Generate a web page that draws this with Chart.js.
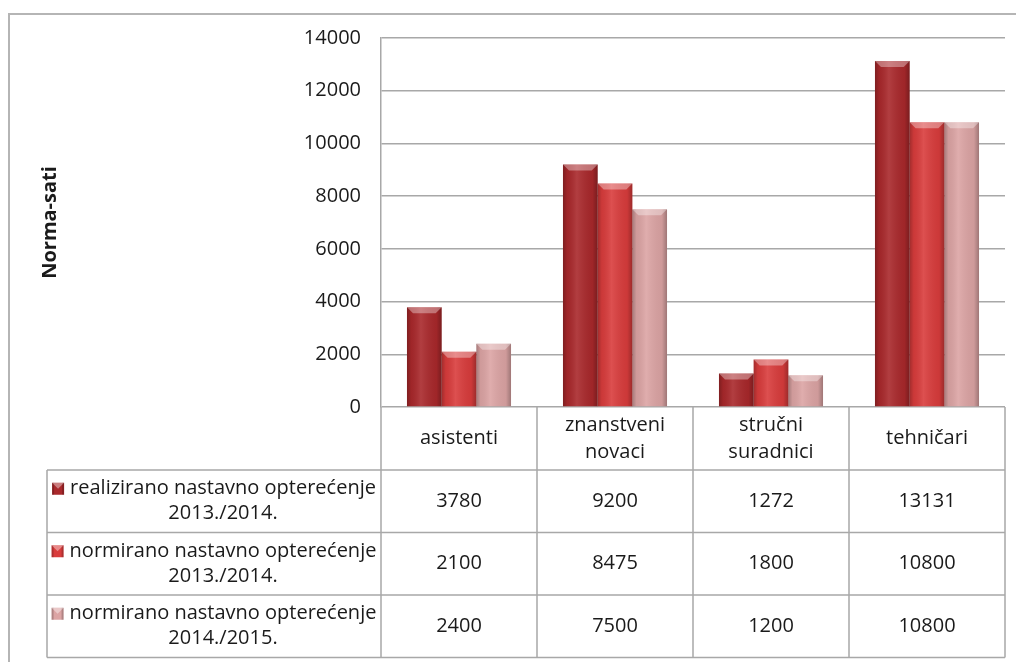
<!DOCTYPE html>
<html>
<head>
<meta charset="utf-8">
<script src="https://cdn.jsdelivr.net/npm/chart.js@4"></script>
<style>
  html, body { margin: 0; padding: 0; background: #fff; overflow: hidden; }
  #frame { position: absolute; left: 8px; top: 13px; width: 1100px; height: 700px; border: 2px solid #b5b5b5; }
  #wrap { position: absolute; left: 0; top: 0; width: 1016px; height: 662px; }
</style>
</head>
<body>
<div id="frame"></div>
<div id="wrap"><canvas id="chart" width="1016" height="662"></canvas></div>
<script>
// categories (multi-line where the header wraps)
const categories = ['asistenti', ['znanstveni', 'novaci'], ['stručni', 'suradnici'], 'tehničari'];
const seriesNames = [
  ['realizirano nastavno opterećenje', '2013./2014.'],
  ['normirano nastavno opterećenje', '2013./2014.'],
  ['normirano nastavno opterećenje', '2014./2015.']
];
const realizirano1314 = [3780, 9200, 1272, 13131];
const normirano1314 = [2100, 8475, 1800, 10800];
const normirano1415 = [2400, 7500, 1200, 10800];
const yMin = 0, yMax = 14000, yStep = 2000;
const yTitle = 'Norma-sati';

const colors = ['#a9282b', '#d93c3c', '#dca4a4'];
const FONT = "'Open Sans', sans-serif";
const TXT = '#1a1a1a';
const lineCol = '#a8a8a8';

const bevel = {
  id: 'bevel',
  afterDatasetsDraw(chart) {
    const ctx = chart.ctx;
    chart.data.datasets.forEach((ds, di) => {
      chart.getDatasetMeta(di).data.forEach(bar => {
        const {x, y, base, width} = bar.getProps(['x', 'y', 'base', 'width'], true);
        const l = x - width / 2, r = x + width / 2, h = base - y;
        const g = ctx.createLinearGradient(l, 0, r, 0);
        g.addColorStop(0, 'rgba(0,0,0,0.25)');
        g.addColorStop(0.12, 'rgba(0,0,0,0.06)');
        g.addColorStop(0.4, 'rgba(255,255,255,0.10)');
        g.addColorStop(0.85, 'rgba(0,0,0,0.06)');
        g.addColorStop(1, 'rgba(0,0,0,0.28)');
        ctx.save();
        ctx.fillStyle = g;
        ctx.fillRect(l, y, width, h);
        const b = Math.min(6, h / 2);
        ctx.beginPath();
        ctx.moveTo(l, y); ctx.lineTo(r, y); ctx.lineTo(r - b, y + b); ctx.lineTo(l + b, y + b);
        ctx.closePath();
        ctx.fillStyle = 'rgba(255,255,255,0.35)';
        ctx.fill();
        ctx.restore();
      });
    });
  }
};

// data table under the plot, laid out from the x scale
const dataTable = {
  id: 'dataTable',
  afterDraw(chart) {
    const ctx = chart.ctx, area = chart.chartArea, xs = chart.scales.x;
    const n = categories.length;
    const colW = (area.right - area.left) / n;
    const headerH = 63, rowH = 62.5, tableLeft = 47;
    const rowsTop = area.bottom + headerH;
    const bottom = rowsTop + rowH * seriesNames.length;
    ctx.save();
    ctx.strokeStyle = lineCol;
    ctx.lineWidth = 1.5;
    ctx.beginPath();
    for (let i = 0; i <= n; i++) {
      const xx = i === n ? area.right : xs.getPixelForValue(i) - colW / 2;
      ctx.moveTo(xx, area.bottom); ctx.lineTo(xx, bottom);
    }
    ctx.moveTo(tableLeft, rowsTop); ctx.lineTo(tableLeft, bottom);
    for (let r = 0; r <= seriesNames.length; r++) {
      const yy = rowsTop + r * rowH;
      ctx.moveTo(tableLeft, yy); ctx.lineTo(area.right, yy);
    }
    ctx.stroke();

    ctx.font = '20px ' + FONT;
    ctx.textBaseline = 'middle';
    chart.data.datasets.forEach((ds, di) => {
      const cy = rowsTop + di * rowH + rowH / 2;
      // row header with legend marker
      const lines = seriesNames[di];
      const w1 = ctx.measureText(lines[0]).width;
      const mark = 12, gap = 6;
      const cellC = (tableLeft + area.left) / 2;
      const startX = cellC - (mark + gap + w1) / 2;
      const textC = startX + mark + gap + w1 / 2;
      const my = cy - 12.5 - mark / 2;
      ctx.fillStyle = colors[di];
      ctx.fillRect(startX, my, mark, mark);
      ctx.fillStyle = 'rgba(0,0,0,0.2)';
      ctx.fillRect(startX, my, 2, mark);
      ctx.fillRect(startX + mark - 2, my, 2, mark);
      ctx.fillStyle = 'rgba(255,255,255,0.4)';
      ctx.beginPath();
      ctx.moveTo(startX, my);
      ctx.lineTo(startX + mark, my);
      ctx.lineTo(startX + mark / 2, my + mark / 2);
      ctx.closePath(); ctx.fill();
      ctx.fillStyle = TXT;
      ctx.textAlign = 'center';
      ctx.fillText(lines[0], textC, cy - 12.5);
      ctx.fillText(lines[1], textC, cy + 12.5);
      ds.data.forEach((v, i) => {
        ctx.fillText(String(v), xs.getPixelForValue(i), cy);
      });
    });
    ctx.restore();
  }
};

new Chart(document.getElementById('chart'), {
  type: 'bar',
  data: {
    labels: categories,
    datasets: [
      { label: seriesNames[0].join(' '), data: realizirano1314, backgroundColor: colors[0] },
      { label: seriesNames[1].join(' '), data: normirano1314, backgroundColor: colors[1] },
      { label: seriesNames[2].join(' '), data: normirano1415, backgroundColor: colors[2] }
    ]
  },
  options: {
    responsive: false,
    animation: false,
    layout: { padding: { left: 30, top: 38, right: 11, bottom: 0 } },
    categoryPercentage: 0.667,
    barPercentage: 1,
    plugins: { legend: { display: false }, tooltip: { enabled: false } },
    scales: {
      x: {
        grid: { display: false, drawTicks: false },
        border: { display: false },
        ticks: {
          font: { family: FONT, size: 20, lineHeight: 1.35 },
          color: TXT,
          padding: 18,
          crossAlign: 'center',
          maxRotation: 0,
          autoSkip: false
        },
        afterFit(s) { s.height = 255; }
      },
      y: {
        min: yMin, max: yMax,
        ticks: {
          stepSize: yStep, padding: 20, color: TXT,
          font: { family: FONT, size: 20 },
          callback: v => String(v)
        },
        grid: { color: lineCol, lineWidth: 1.5, drawTicks: false },
        border: { display: true, color: lineCol, width: 1.5 },
        title: {
          display: true, text: yTitle, color: TXT,
          font: { family: FONT, size: 20, weight: 'bold', lineHeight: 1.2 },
          padding: { top: 8, bottom: 0 }
        },
        afterFit(s) { s.width = 351; }
      }
    }
  },
  plugins: [bevel, dataTable]
});
</script>
</body>
</html>
